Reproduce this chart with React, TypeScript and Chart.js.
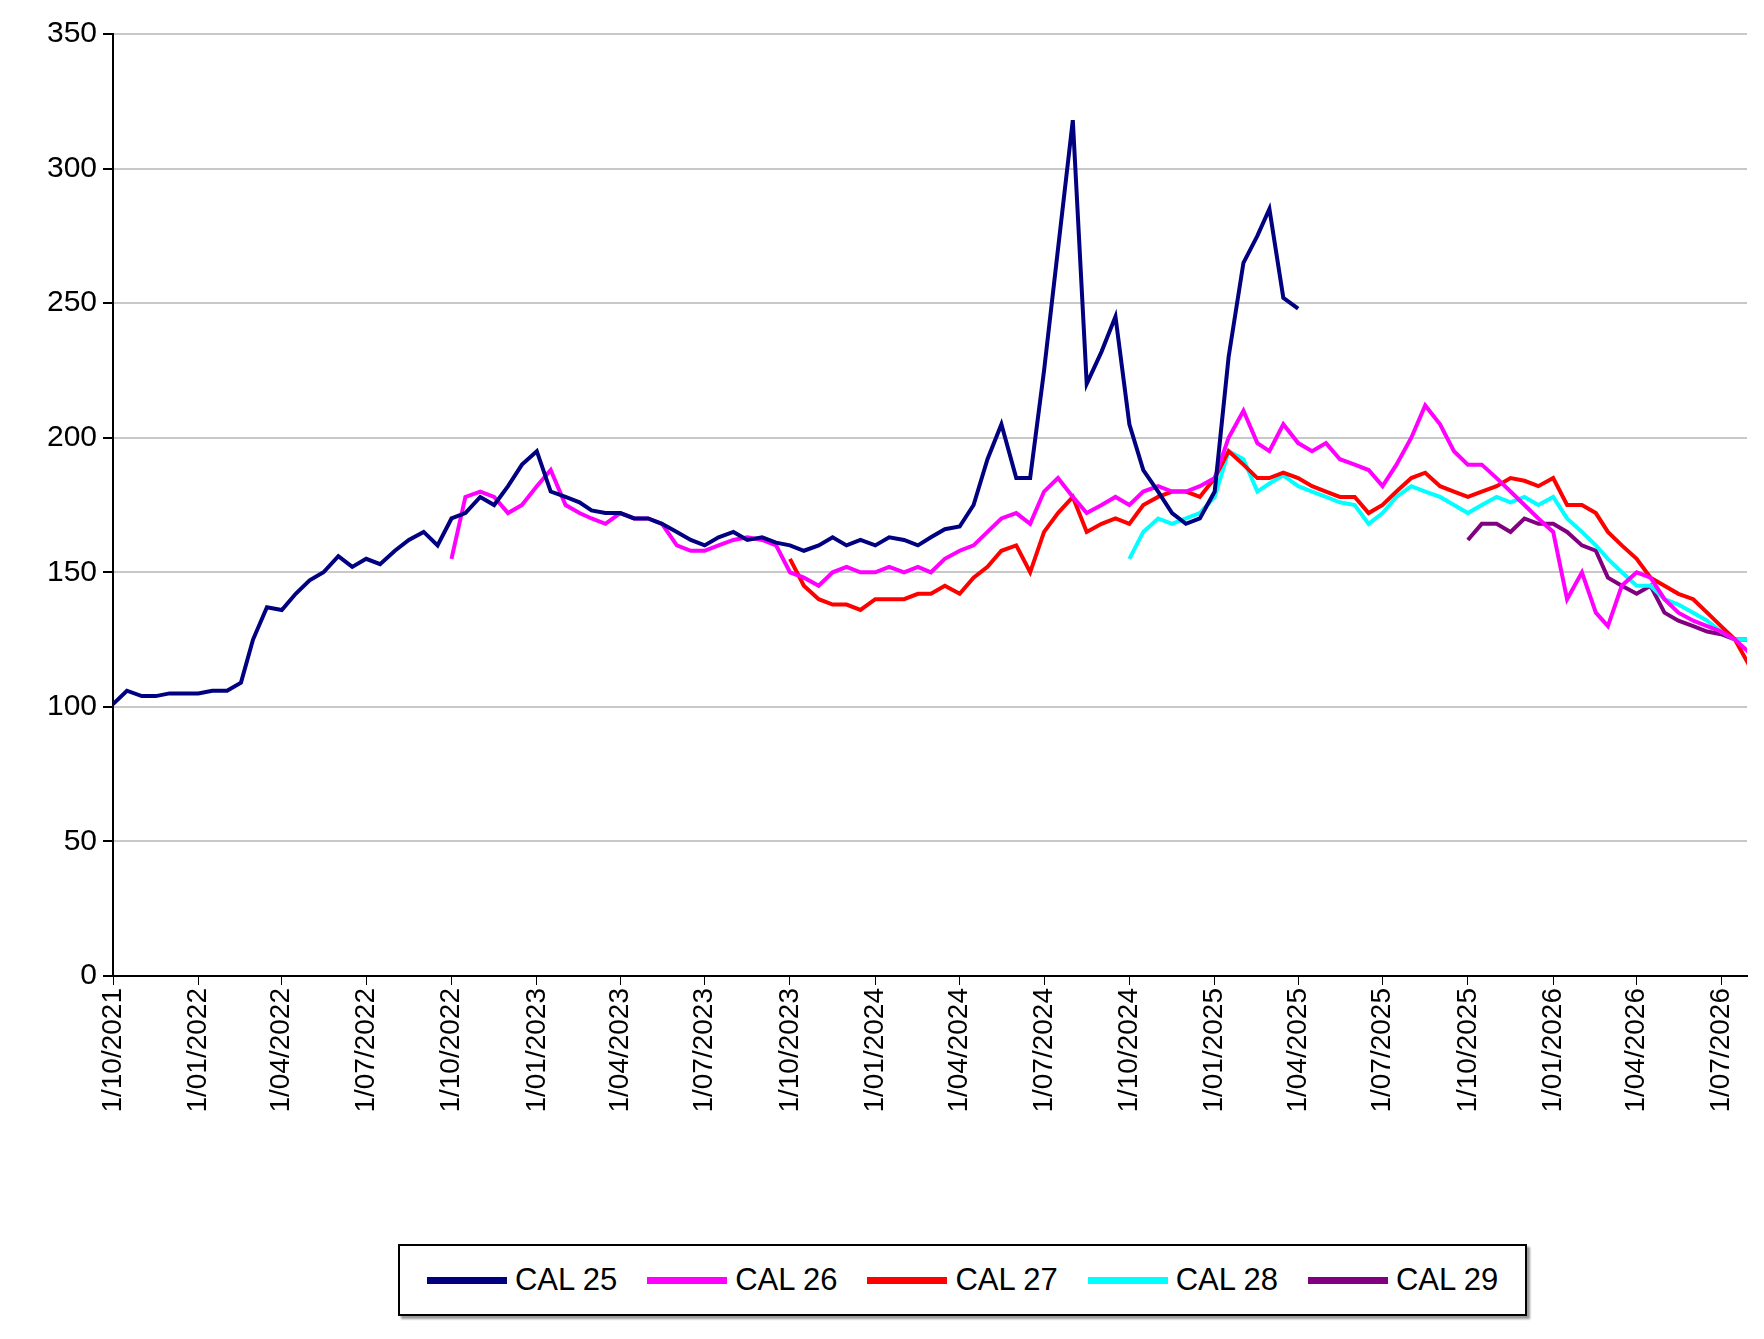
import React, { useEffect, useRef } from "react";
import { Chart, registerables } from "chart.js";
Chart.register(...registerables);

// half-month samples (1st and 16th of each month), starting at given month
const cal25Start = [2021, 10];
const cal25 = [101,106, 104,104, 105,105, 105,106, 106,109, 125,137, 136,142, 147,150, 156,152, 155,153, 158,162, 165,160,
  170,172, 178,175, 182,190, 195,180, 178,176, 173,172, 172,170, 170,168, 165,162, 160,163, 165,162, 163,161,
  160,158, 160,163, 160,162, 160,163, 162,160, 163,166, 167,175, 192,205, 185,185, 225,270, 318,220, 232,245,
  205,188, 180,172, 168,170, 180,230, 265,275, 285,252, 248];
const cal26Start = [2022, 10];
const cal26 = [155,178, 180,178, 172,175, 182,188, 175,172, 170,168, 172,170, 170,168, 160,158, 158,160, 162,163, 162,160,
  150,148, 145,150, 152,150, 150,152, 150,152, 150,155, 158,160, 165,170, 172,168, 180,185, 178,172, 175,178,
  175,180, 182,180, 180,182, 185,200, 210,198, 195,205, 198,195, 198,192, 190,188, 182,190, 200,212, 205,195,
  190,190, 185,180, 175,170, 165,140, 150,135, 130,145, 150,148, 140,135, 132,130, 128,125, 120];
const cal27Start = [2023, 10];
const cal27 = [155,145, 140,138, 138,136, 140,140, 140,142, 142,145, 142,148, 152,158, 160,150, 165,172, 178,165, 168,170,
  168,175, 178,180, 180,178, 185,195, 190,185, 185,187, 185,182, 180,178, 178,172, 175,180, 185,187, 182,180,
  178,180, 182,185, 184,182, 185,175, 175,172, 165,160, 155,148, 145,142, 140,135, 130,125, 115];
const cal28Start = [2024, 10];
const cal28 = [155,165, 170,168, 170,172, 178,195, 192,180, 183,186, 182,180, 178,176, 175,168, 172,178, 182,180, 178,175,
  172,175, 178,176, 178,175, 178,170, 165,160, 155,150, 145,145, 140,138, 135,132, 128,125, 125];
const cal29Start = [2025, 10];
const cal29 = [162,168, 168,165, 170,168, 168,165, 160,158, 148,145, 142,145, 135,132, 130,128, 127,125, 125];

const names = ["CAL 25", "CAL 26", "CAL 27", "CAL 28", "CAL 29"];
const colors = ["#000080", "#ff00ff", "#ff0000", "#00ffff", "#800080"];
const yTicks = [0, 50, 100, 150, 200, 250, 300, 350];

function toPoints(start: number[], vals: number[]) {
  return vals.map((v, i) => {
    const m = start[1] - 1 + Math.floor(i / 2);
    const d = i % 2 === 0 ? 1 : 16;
    return { x: Date.UTC(start[0], m, d), y: v };
  });
}

export default function App() {
  const ref = useRef<HTMLCanvasElement>(null);
  useEffect(() => {
    const series = [[cal25Start, cal25], [cal26Start, cal26], [cal27Start, cal27], [cal28Start, cal28], [cal29Start, cal29]];
    const chart = new Chart(ref.current!, {
      type: "line",
      data: {
        datasets: series.map((s, i) => ({
          label: names[i],
          data: toPoints(s[0] as number[], s[1] as number[]),
          borderColor: colors[i],
          borderWidth: 4,
          pointRadius: 0,
          tension: 0,
        })),
      },
      options: {
        animation: false,
        responsive: false,
        layout: { padding: { top: 34, right: 17, left: 0, bottom: 0 } },
        plugins: { legend: { display: false }, tooltip: { enabled: false } },
        scales: {
          x: {
            type: "linear",
            min: Date.UTC(2021, 9, 1),
            max: Date.UTC(2026, 6, 29),
            afterBuildTicks: (ax: any) => {
              const t = [];
              for (let k = 0; k < 20; k++) t.push({ value: Date.UTC(2021, 9 + 3 * k, 1) });
              ax.ticks = t;
            },
            afterFit: (ax: any) => { ax.height = 224; },
            ticks: {
              autoSkip: false, maxRotation: 90, minRotation: 90, color: "#000",
              font: { family: "Liberation Sans", size: 28 },
              callback: (v: any) => {
                const d = new Date(v);
                return `${d.getUTCDate()}/${String(d.getUTCMonth() + 1).padStart(2, "0")}/${d.getUTCFullYear()}`;
              },
            },
            grid: { drawOnChartArea: false, color: "#000", tickLength: 9 },
            border: { color: "#000", width: 2 },
          },
          y: {
            min: 0, max: 350,
            afterBuildTicks: (ax: any) => { ax.ticks = yTicks.map((v) => ({ value: v })); },
            afterFit: (ax: any) => { ax.width = 113; },
            ticks: { color: "#000", font: { family: "Liberation Sans", size: 30 }, padding: 6 },
            grid: { color: "#c8c8c8", lineWidth: 2, tickColor: "#000", tickLength: 10 },
            border: { color: "#000", width: 2 },
          },
        },
      },
    });
    return () => chart.destroy();
  }, []);
  return (
    <div style={{ position: "absolute", left: 0, top: 0, width: 1764, height: 1339, background: "#fff" }}>
      <canvas ref={ref} width={1764} height={1200} style={{ position: "absolute", left: 0, top: 0 }} />
      <div style={{
        position: "absolute", left: 398, top: 1244, width: 1125, height: 68, border: "2px solid #000",
        boxShadow: "3px 3px 2px #999", display: "flex", alignItems: "center", justifyContent: "center",
        fontFamily: "Liberation Sans Narrow, Liberation Sans", fontSize: 31, color: "#000", gap: 30,
      }}>
        {names.map((n, i) => (
          <div key={n} style={{ display: "flex", alignItems: "center" }}>
            <span style={{ display: "inline-block", width: 80, height: 7, background: colors[i], marginRight: 8 }} />
            <span>{n}</span>
          </div>
        ))}
      </div>
    </div>
  );
}
